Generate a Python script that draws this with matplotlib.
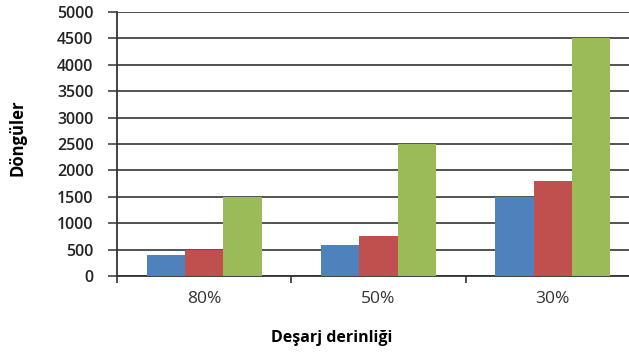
import matplotlib
matplotlib.use('Agg')
import matplotlib.pyplot as plt
import numpy as np

# Data
categories = ['80%', '50%', '30%']
series_blue = [400, 580, 1500]
series_red = [500, 750, 1800]
series_green = [1500, 2500, 4500]
y_ticks = [0, 500, 1000, 1500, 2000, 2500, 3000, 3500, 4000, 4500, 5000]

plt.rcParams['font.family'] = ['Open Sans', 'DejaVu Sans']

fig = plt.figure(figsize=(6.29, 3.56), dpi=100)
# right edge runs past the figure like in the reference crop
ax = fig.add_axes([117 / 629, 1 - 276 / 356, 523 / 629, 264 / 356])

x = np.arange(len(categories))
w = 0.22
ax.bar(x - w, series_blue, w, color='#4F81BD', zorder=3)
ax.bar(x, series_red, w, color='#C0504D', zorder=3)
ax.bar(x + w, series_green, w, color='#9BBB59', zorder=3)

ax.set_xlim(-0.5, len(categories) - 0.5)
ax.set_ylim(0, 5000)
ax.set_yticks(y_ticks)
ax.set_yticklabels([str(v) for v in y_ticks], fontsize=11.5, fontweight='semibold', color='#222222')
ax.yaxis.grid(True, color='#444444', linewidth=1.3, zorder=0)

# category labels at centers, tick marks at the boundaries
ax.set_xticks(x)
ax.set_xticklabels(categories, fontsize=12.5, color='#333333')
ax.tick_params(axis='x', length=0, pad=11)
ax.set_xticks(np.arange(len(categories) + 1) - 0.5, minor=True)
ax.tick_params(axis='x', which='minor', length=5, width=1.2, color='#333333', direction='out')
ax.tick_params(axis='y', length=6.5, width=1.1, color='#333333', pad=10.5)

for side in ['top', 'right']:
    ax.spines[side].set_visible(False)
ax.spines['left'].set_color('#333333')
ax.spines['left'].set_linewidth(1.3)
ax.spines['bottom'].set_color('#333333')
ax.spines['bottom'].set_linewidth(1.3)

fig.text(332 / 629, 1 - 338 / 356, 'Deşarj derinliği', ha='center', va='center',
         fontsize=11.5, fontweight='bold')
fig.text(18 / 629, 1 - 138 / 356, 'Döngüler', ha='center', va='center',
         rotation=90, fontsize=12, fontweight='bold')

fig.savefig('out.png', dpi=100)
